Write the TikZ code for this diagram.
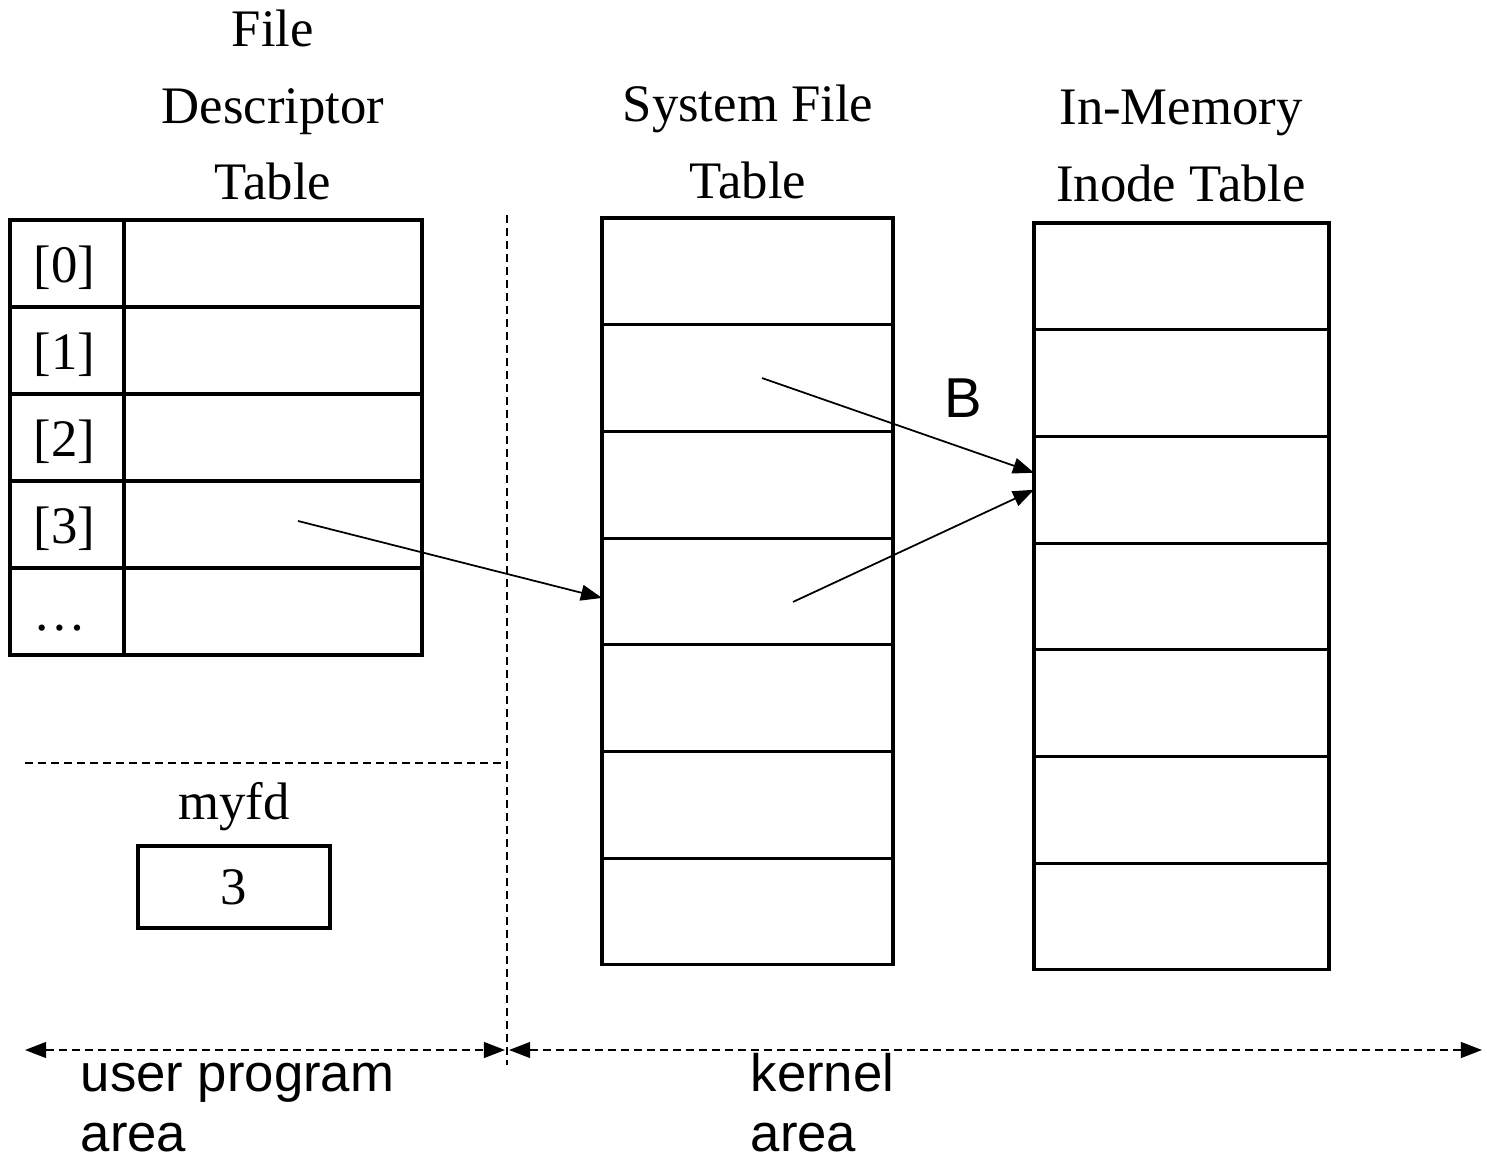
\documentclass[tikz,border=0pt]{standalone}
\usepackage{fontspec}
\setmainfont{Liberation Serif}
\setsansfont{Liberation Sans}
\usetikzlibrary{arrows.meta,positioning}

\begin{document}
\begin{tikzpicture}[
  cell/.style={draw, line width=0.9pt, outer sep=0pt, inner sep=0pt, minimum height=0.87cm},
  idx/.style={anchor=base west, inner sep=0pt, font=\fontsize{15}{18}\selectfont},
  row/.style={draw, line width=0.9pt, outer sep=0pt, inner sep=0pt, minimum height=1.067cm, minimum width=#1},
  head/.style={align=center, font=\fontsize{15}{21.9}\selectfont},
  area/.style={align=left, anchor=north west, inner sep=0pt, font=\sffamily\fontsize{15}{17.2}\selectfont},
  arrow/.style={-{Triangle[length=6pt, width=4.5pt]}, line width=0.5pt},
  split/.style={dash pattern=on 2.3pt off 1.4pt, line width=0.5pt}
]
  \useasboundingbox (0,0) rectangle (14.87,11.60);

  % File descriptor table
  \node[head] (fdt) at (2.73,10.55) {File\\Descriptor\\Table};
  \foreach \i/\lab in {0/{[0]},1/{[1]},2/{[2]},3/{[3]},4/{\ldots}} {
    \node[cell, minimum width=1.14cm] (fi\i) at (0.67,8.965-0.87*\i) {};
    \node[cell, minimum width=2.98cm, right=0pt of fi\i] (fv\i) {};
    \node[idx] (fl\i) at (0.33,8.77-0.87*\i) {\lab};
  }

  % System file table
  \node[head] (sft) at (7.48,10.185) {System File\\Table};
  \foreach \i in {0,...,6}
    \node[row=2.91cm] (s\i) at (7.475,8.8865-1.067*\i) {};

  % In-memory inode table
  \node[head] (imt) at (11.81,10.14) {In-Memory\\Inode Table};
  \foreach \i in {0,...,6}
    \node[row=2.95cm] (n\i) at (11.815,8.8365-1.067*\i) {};

  % myfd variable
  \node[font=\fontsize{15}{18}\selectfont] (myfd) at (2.34,3.53) {myfd};
  \node[draw, line width=0.9pt, minimum width=1.92cm, minimum height=0.82cm, font=\fontsize{15}{18}\selectfont] (fdval) at (2.34,2.73) {3};

  % pointers
  \coordinate (p3) at ([xshift=0.25cm, yshift=0.035cm]fv3.center);
  \coordinate (q1) at ([xshift=0.145cm]s1.center);
  \coordinate (q3) at ([xshift=0.455cm, yshift=-0.105cm]s3.center);
  \draw[arrow] (p3) -- ([yshift=-0.065cm]s3.west);
  \draw[arrow] (q1) -- ([yshift=0.17cm]n2.west);
  \draw[arrow] (q3) -- (n2.west);
  \node[font=\sffamily\fontsize{16}{19}\selectfont] (b) at (9.63,7.62) {B};

  % user / kernel boundary
  \coordinate (top) at (5.07,9.45);
  \coordinate (bot) at (5.07,0.95);
  \coordinate (mid) at (5.07,3.97);
  \coordinate (ul) at (0.25,3.97);
  \coordinate (al) at (0.25,1.10);
  \coordinate (am) at (5.07,1.10);
  \coordinate (ar) at (14.82,1.10);
  \draw[split] (top) -- (bot);
  \draw[split] (ul) -- (mid);
  \draw[split, {Triangle[length=6pt, width=4.5pt]}-{Triangle[length=6pt, width=4.5pt]}] (al) -- ([xshift=-0.02cm]am);
  \draw[split, {Triangle[length=6pt, width=4.5pt]}-{Triangle[length=6pt, width=4.5pt]}] ([xshift=0.02cm]am) -- (ar);

  \node[area] (user) at (0.80,1.12) {\strut user program\\area};
  \node[area] (kern) at (7.50,1.12) {\strut kernel\\area};
\end{tikzpicture}
\end{document}
